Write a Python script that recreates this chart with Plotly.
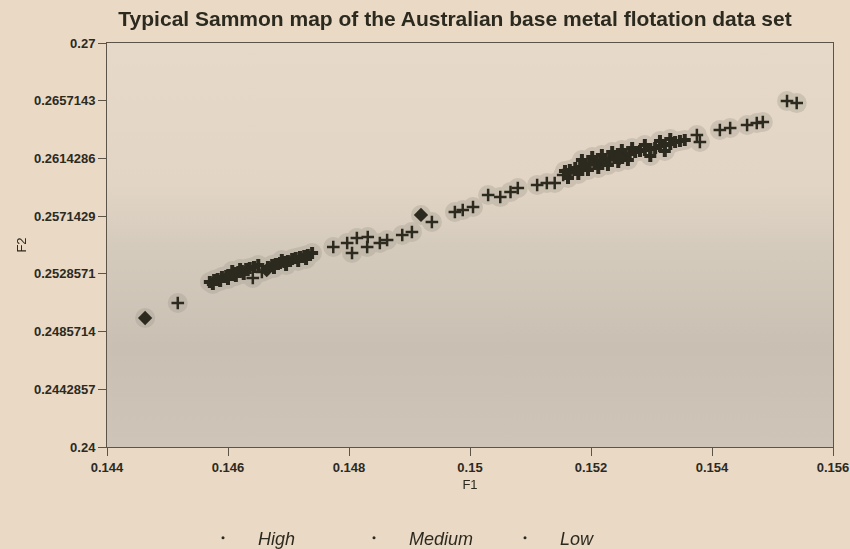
import base64
import plotly.graph_objects as go

# ---------------- data ----------------
high_x = [0.14463, 0.14919, 0.14664, 0.15248]
high_y = [0.24958, 0.25723, 0.25314, 0.26146]

medium_x = [0.14517, 0.14641, 0.14656, 0.14774, 0.14797, 0.14805, 0.14813, 0.14831,
            0.14830, 0.14851, 0.14863, 0.14888, 0.14904, 0.14937, 0.14975, 0.14988,
            0.15005, 0.15030, 0.15050, 0.15067, 0.15079, 0.15111, 0.15127, 0.15140,
            0.15154, 0.15165, 0.15375, 0.15380, 0.15413, 0.15430, 0.15458, 0.15474,
            0.15484, 0.15524, 0.15540]
medium_y = [0.25069, 0.25255, 0.25300, 0.25485, 0.25515, 0.25441, 0.25552, 0.25559,
            0.25485, 0.25515, 0.25537, 0.25574, 0.25597, 0.25671, 0.25745, 0.25760,
            0.25782, 0.25871, 0.25856, 0.25894, 0.25923, 0.25946, 0.25960, 0.25960,
            0.26020, 0.26035, 0.26317, 0.26265, 0.26354, 0.26369, 0.26391, 0.26406,
            0.26413, 0.26569, 0.26554]

low_x = [0.14570, 0.14577, 0.14583, 0.14590, 0.14597, 0.14603, 0.14610, 0.14617,
         0.14623, 0.14630, 0.14636, 0.14643, 0.14650, 0.14575, 0.14587, 0.14600,
         0.14613, 0.14626, 0.14620, 0.14607,
         0.14666, 0.14673, 0.14679, 0.14686, 0.14693, 0.14699, 0.14706, 0.14712,
         0.14719, 0.14726, 0.14732, 0.14739, 0.14676, 0.14696, 0.14716, 0.14729,
         0.14689,
         0.15157, 0.15165, 0.15174, 0.15182, 0.15190, 0.15198, 0.15207, 0.15215,
         0.15223, 0.15231, 0.15240, 0.15248, 0.15256, 0.15264, 0.15273, 0.15281,
         0.15289, 0.15298, 0.15306, 0.15314, 0.15322, 0.15331, 0.15339, 0.15347,
         0.15355,
         0.15162, 0.15179, 0.15195, 0.15212, 0.15228, 0.15245, 0.15261, 0.15185,
         0.15202, 0.15218, 0.15235, 0.15251, 0.15268, 0.15289, 0.15314, 0.15331,
         0.15298, 0.15322]
low_y = [0.25225, 0.25240, 0.25248, 0.25262, 0.25270, 0.25277, 0.25292, 0.25300,
         0.25307, 0.25322, 0.25329, 0.25337, 0.25351, 0.25210, 0.25233, 0.25248,
         0.25270, 0.25285, 0.25322, 0.25307,
         0.25337, 0.25351, 0.25359, 0.25366, 0.25374, 0.25381, 0.25396, 0.25403,
         0.25411, 0.25418, 0.25426, 0.25441, 0.25329, 0.25351, 0.25381, 0.25396,
         0.25389,
         0.26050, 0.26057, 0.26072, 0.26079, 0.26087, 0.26101, 0.26109, 0.26124,
         0.26131, 0.26139, 0.26146, 0.26161, 0.26168, 0.26176, 0.26191, 0.26198,
         0.26205, 0.26213, 0.26220, 0.26235, 0.26243, 0.26250, 0.26265, 0.26272,
         0.26280,
         0.25998, 0.26027, 0.26057, 0.26072, 0.26094, 0.26116, 0.26131, 0.26131,
         0.26153, 0.26168, 0.26191, 0.26205, 0.26220, 0.26243, 0.26272, 0.26287,
         0.26161, 0.26198]

x_ticks = ["0.144", "0.146", "0.148", "0.15", "0.152", "0.154", "0.156"]
y_ticks = ["0.24", "0.2442857", "0.2485714", "0.2528571", "0.2571429",
           "0.2614286", "0.2657143", "0.27"]
series_names = ["High", "Medium", "Low"]

# ---------------- styling ----------------
FONT = "Liberation Sans, Arial, sans-serif"
INK = "#2c2a1f"
PAPER = "#e9d9c5"

svg = """<svg xmlns='http://www.w3.org/2000/svg' width='100' height='100' preserveAspectRatio='none'>
<defs><linearGradient id='g' x1='0' y1='0' x2='0' y2='1'>
<stop offset='0' stop-color='#e6d9c9'/>
<stop offset='0.35' stop-color='#e2d5c5'/>
<stop offset='0.5' stop-color='#d5cbbd'/>
<stop offset='0.75' stop-color='#c9c0b3'/>
<stop offset='1' stop-color='#cec4b7'/>
</linearGradient></defs>
<rect width='100' height='100' fill='url(#g)'/></svg>"""
bg_uri = "data:image/svg+xml;base64," + base64.b64encode(svg.encode()).decode()

fig = go.Figure()

# soft grey halo around the point band
fig.add_trace(go.Scatter(
    x=low_x + medium_x + high_x, y=low_y + medium_y + high_y, mode="markers",
    marker=dict(size=20, color="#a29a8c", line=dict(width=0)),
    opacity=0.35, showlegend=False, hoverinfo="skip"))

fig.add_trace(go.Scatter(
    x=low_x, y=low_y, mode="markers", showlegend=False, name=series_names[2],
    marker=dict(symbol="cross", size=10, color=INK, line=dict(width=0))))
fig.add_trace(go.Scatter(
    x=medium_x, y=medium_y, mode="markers", showlegend=False, name=series_names[1],
    marker=dict(symbol="cross-thin", size=9, color=INK, line=dict(width=2.5, color=INK))))
fig.add_trace(go.Scatter(
    x=high_x, y=high_y, mode="markers", showlegend=False, name=series_names[0],
    marker=dict(symbol="diamond", size=11, color=INK, line=dict(width=0))))

# legend entries (tiny dots like the original)
for nm in series_names:
    fig.add_trace(go.Scatter(x=[None], y=[None], mode="markers",
                             name="\u00a0\u00a0\u00a0" + nm,
                             marker=dict(size=3, color=INK)))

fig.update_layout(
    width=850, height=549,
    margin=dict(l=107, r=17, t=43, b=102, autoexpand=False),
    paper_bgcolor=PAPER, plot_bgcolor="rgba(0,0,0,0)",
    font=dict(family=FONT, color=INK),
    title=dict(text="Typical Sammon map of the Australian base metal flotation data set",
               font=dict(size=21, weight="bold", family=FONT, color=INK),
               x=455 / 850, xanchor="center", xref="container",
               y=1 - 19 / 549, yanchor="middle", yref="container"),
    images=[dict(source=bg_uri, xref="paper", yref="paper", x=0, y=1,
                 sizex=1, sizey=1, sizing="stretch", layer="below")],
    legend=dict(orientation="h", x=203 / 850, xanchor="left", xref="container",
                y=1 - 538 / 549, yanchor="middle", yref="container",
                bgcolor="rgba(0,0,0,0)", entrywidth=106, entrywidthmode="pixels",
                font=dict(size=18, style="italic", family=FONT, color=INK)),
)

axis_common = dict(showgrid=False, zeroline=False, showline=True, mirror=True,
                   linecolor="#5b5447", linewidth=1, ticks="outside", ticklen=8,
                   tickcolor="#5b5447",
                   tickfont=dict(size=13, weight="bold", family=FONT, color=INK))

fig.update_xaxes(range=[0.144, 0.156], tickvals=[float(t) for t in x_ticks],
                 ticktext=x_ticks, automargin=False,
                 title=dict(text="F1", standoff=6, font=dict(size=13, family=FONT, color=INK)),
                 **axis_common)
fig.update_yaxes(range=[0.24, 0.27], tickvals=[float(t) for t in y_ticks],
                 ticktext=y_ticks, automargin=False,
                 title=dict(text="F2", standoff=4, font=dict(size=13, family=FONT, color=INK)),
                 **axis_common)

fig.write_html("out.html")
